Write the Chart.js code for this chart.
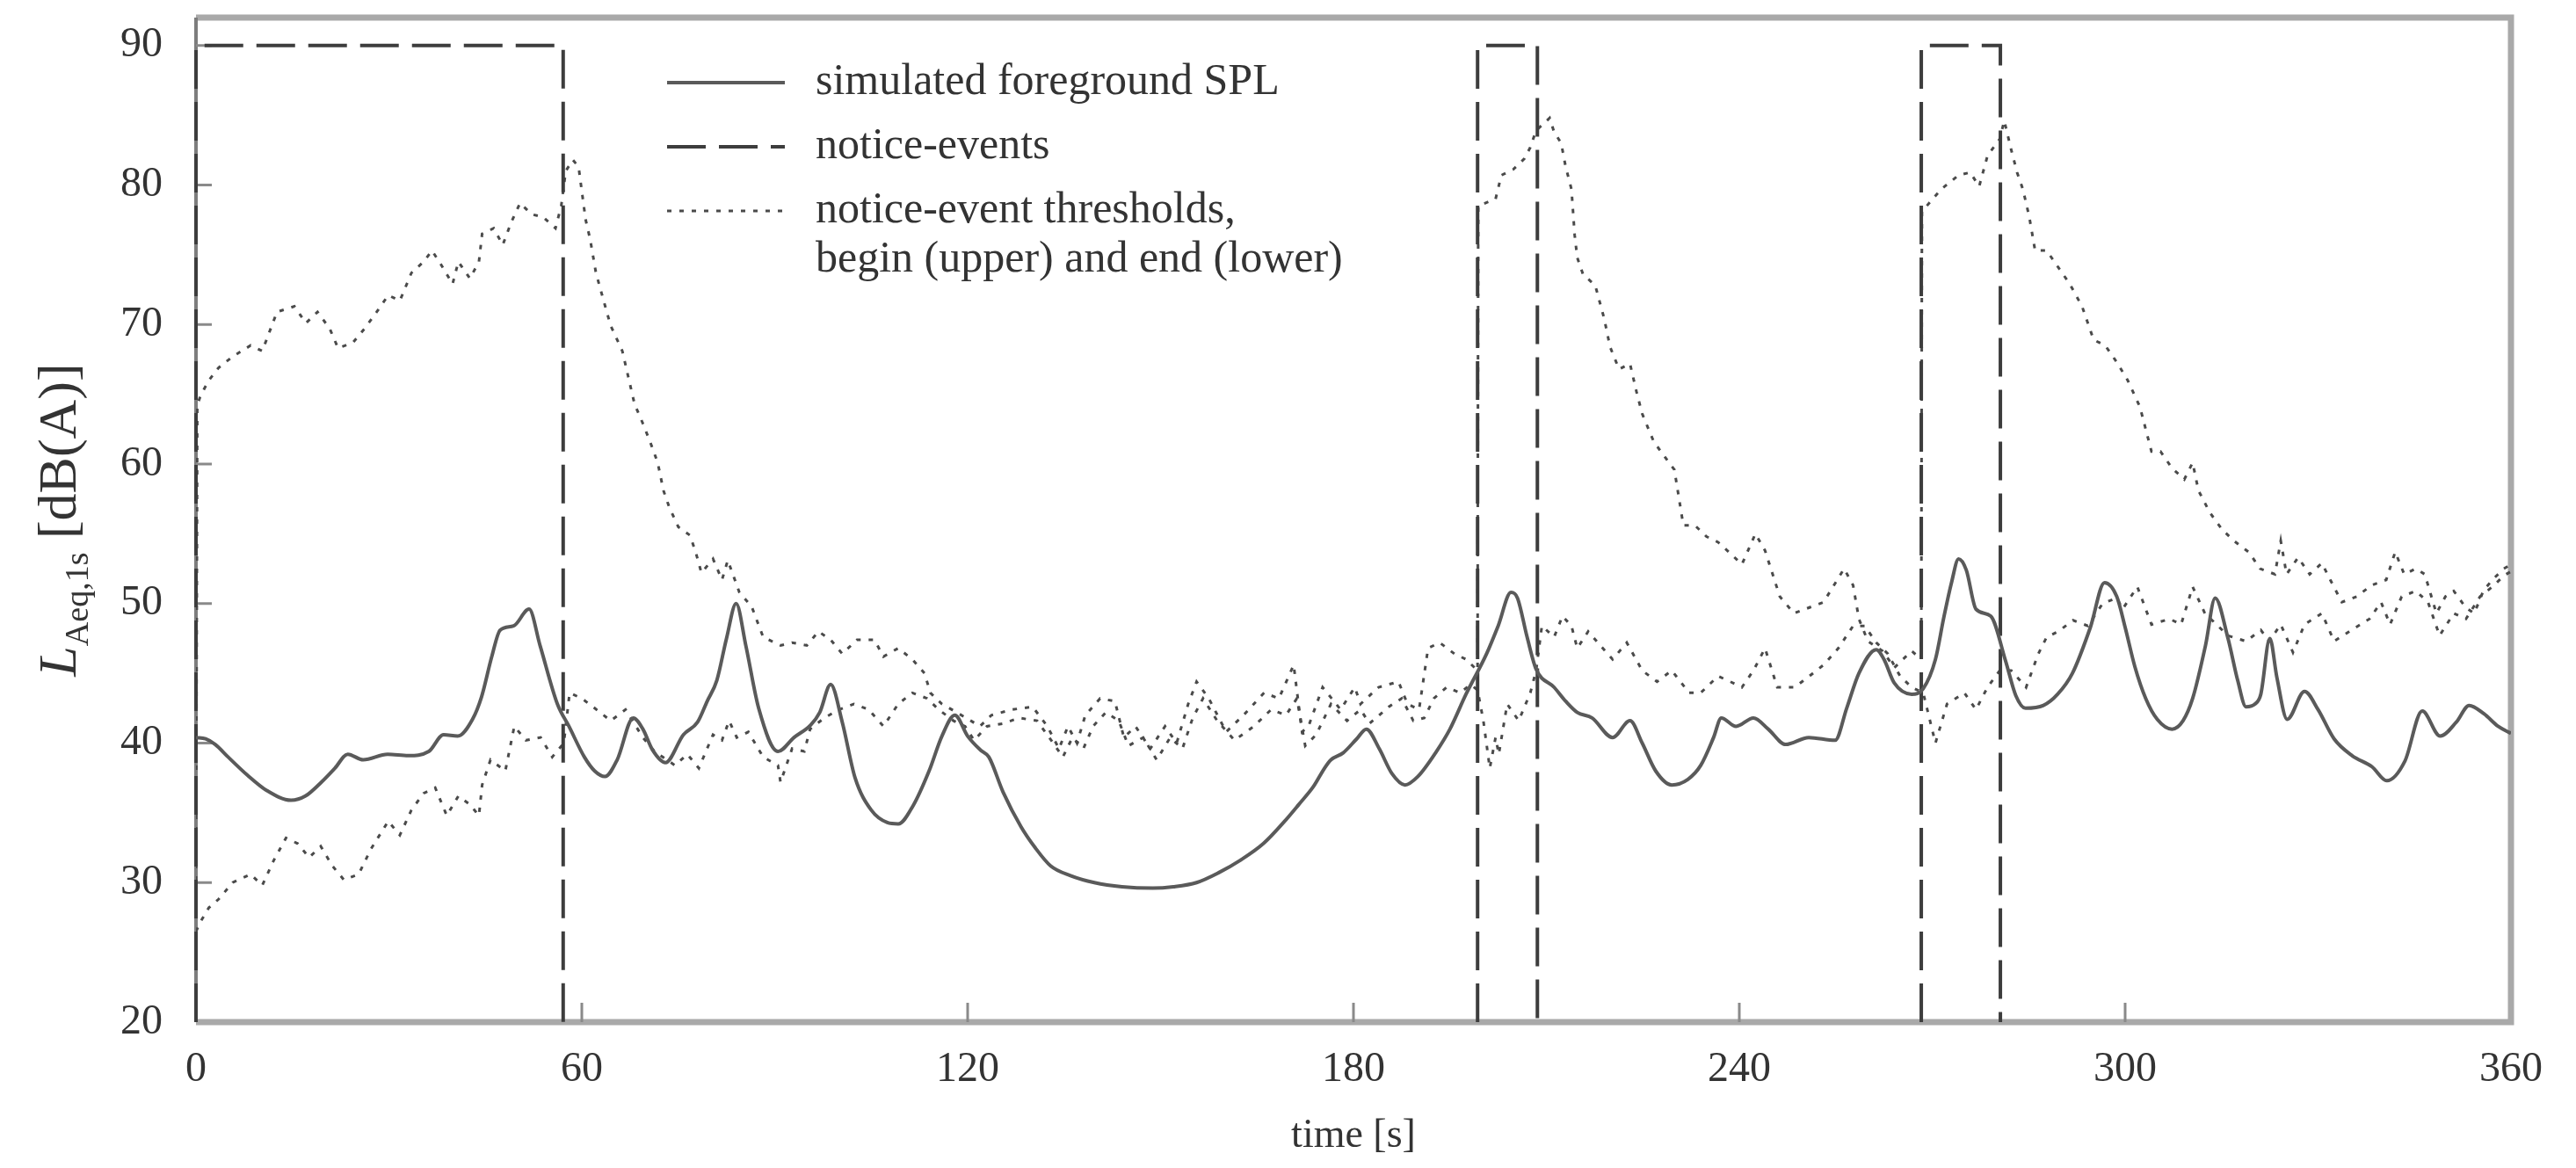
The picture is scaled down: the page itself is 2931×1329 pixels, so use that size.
<!DOCTYPE html>
<html>
<head>
<meta charset="utf-8">
<script src="https://cdn.jsdelivr.net/npm/chart.js@4.4.1/dist/chart.umd.min.js"></script>
<style>
  html, body { margin: 0; padding: 0; background: #fff; }
  canvas { display: block; }
</style>
</head>
<body>
<canvas id="chart" width="2931" height="1329"></canvas>
<script>
const xTicks = [0, 60, 120, 180, 240, 300, 360];
const yTicks = [20, 30, 40, 50, 60, 70, 80, 90];

// simulated foreground SPL (solid)
const splTime = [0, 1.5, 3, 5, 8, 11, 14.8, 17, 19.5, 21.6, 23.6, 26, 29.8, 33, 36.2, 38.5, 40.7, 43, 44.4, 46, 47.3, 49.4, 51.8, 53.5, 56.2, 58, 60.4, 62, 63.6, 65.5, 68, 69.5, 71, 73, 75.8, 78, 79.5, 81, 82.5, 84, 85.5, 87.5, 90.5, 93, 95.6, 97, 98.7, 100.5, 102.5, 105, 107.5, 109.2, 111.5, 114, 116, 118, 120, 122, 123.3, 125.5, 128.3, 130.5, 132.9, 136, 139.7, 144, 148.8, 152, 155.6, 159, 162.4, 166, 169.3, 171.5, 173.8, 175.5, 176.5, 178.4, 180.5, 182, 184, 186, 188, 190, 192.9, 195, 197.5, 200.7, 202.5, 204.5, 205.5, 207, 208.4, 211.2, 213, 214.8, 217.1, 220.3, 223, 224.9, 227, 229.5, 232, 234, 236, 237.2, 239.5, 242.2, 244.5, 247.2, 250.8, 254.9, 256.7, 258.6, 261.3, 262.5, 264.1, 266.8, 268.6, 270.5, 271.8, 273, 274.1, 275.3, 276.8, 279.1, 281.4, 283, 284.5, 287.3, 289.5, 291.8, 294.6, 296.8, 298.7, 300, 301.5, 303.2, 305, 307.3, 309, 310.5, 312.5, 314, 316, 317.5, 318.8, 320.2, 321.1, 322.5, 323.6, 325.2, 327.9, 330, 332.5, 335.3, 338.4, 340.7, 343.5, 346.2, 349, 351.5, 353.5, 355.8, 358, 360];
const splLevel = [40.4, 40.3, 39.9, 39, 37.7, 36.6, 35.9, 36.2, 37.2, 38.2, 39.2, 38.8, 39.2, 39.1, 39.4, 40.6, 40.5, 41.7, 43.3, 46.2, 48.1, 48.4, 49.6, 47, 42.8, 41.2, 39, 38, 37.6, 38.8, 41.8, 41, 39.5, 38.6, 40.6, 41.5, 43, 44.5, 47.5, 50, 47, 42.5, 39.4, 40.4, 41.3, 42.2, 44.2, 41.5, 37.5, 35.2, 34.3, 34.2, 35.5, 38, 40.5, 42, 40.5, 39.5, 39, 36.5, 34, 32.5, 31.2, 30.5, 30, 29.7, 29.6, 29.7, 30, 30.7, 31.6, 32.8, 34.4, 35.6, 36.9, 38.2, 38.8, 39.3, 40.3, 41, 39.6, 37.8, 37, 37.6, 39.4, 41, 43.5, 46.4, 48.4, 50.8, 50.4, 47.6, 45.3, 44, 43, 42.2, 41.8, 40.4, 41.6, 40, 38, 37, 37.4, 38.4, 40.4, 41.8, 41.2, 41.8, 41, 39.9, 40.4, 40.2, 42.5, 45, 46.7, 46, 44.3, 43.5, 43.9, 46, 49, 51.5, 53.2, 52.4, 49.6, 49.1, 45.9, 43.4, 42.5, 42.7, 43.5, 45, 48.3, 51.5, 50.5, 48.3, 45.5, 43.2, 41.7, 41, 41.6, 43.2, 47, 50.4, 47.5, 44.5, 42.6, 42.8, 43.5, 47.5, 44.7, 41.7, 43.7, 42.4, 40.3, 39.1, 38.3, 37.3, 38.7, 42.3, 40.5, 41.5, 42.7, 42.1, 41.2, 40.7];

// notice-event begin threshold (upper, dotted)
const beginTime = [0, 0.2, 0.7, 2, 3.5, 5.7, 8.5, 10.3, 12.6, 15.3, 17.1, 18.9, 20.8, 22.1, 24.4, 26.2, 28.1, 29.9, 31.7, 33.5, 35.4, 36.7, 38.1, 39.9, 40.8, 42.6, 44, 44.5, 46.3, 47.7, 49, 50.4, 52.2, 54, 55.9, 56.8, 57.5, 58.6, 59.5, 59.9, 60.6, 61.3, 62.2, 63.4, 64.5, 66.3, 67.5, 68.2, 69.5, 70.7, 71.8, 72.7, 73.6, 75, 76.8, 77.7, 78.6, 80.4, 81.8, 82.7, 84.5, 86.4, 88.2, 90.9, 92.7, 95, 96.8, 98.7, 100.5, 102.8, 105.5, 106.9, 109.2, 111.4, 113.3, 114.2, 116, 118.3, 120.5, 121.9, 123.7, 126.9, 130.1, 132.4, 134.2, 135.6, 137, 138.3, 140.6, 142.9, 144.3, 146.1, 148.4, 150.7, 152.5, 154.3, 155.6, 157.5, 160.2, 162.9, 166.1, 168.4, 170.7, 172, 173, 175.2, 178, 180.2, 181.1, 183.9, 187, 188.4, 190.2, 191.6, 193.4, 195.7, 197.5, 199.3, 199.4, 202.1, 203, 204.8, 206.6, 207.5, 208.4, 210.5, 211.2, 212.3, 213, 213.9, 214.4, 214.8, 215.7, 217.6, 219, 219.9, 221.3, 223, 224, 224.9, 226.7, 228.6, 229.9, 231.3, 233.1, 234.9, 236.7, 238.6, 240.4, 242.5, 244, 246.3, 248.5, 250.8, 253.1, 256.3, 257.7, 258.6, 260, 262.3, 264.1, 266.8, 268.3, 268.4, 271.4, 274.1, 275.9, 277.3, 278.6, 280.5, 281.2, 282.3, 283.2, 284.1, 285.1, 286, 287.8, 289.6, 291.4, 293.3, 295.1, 296.9, 298.7, 300.4, 302.3, 303.2, 304.1, 305.5, 307.3, 309.2, 310.5, 311.4, 313.2, 315.1, 316.9, 319.2, 321, 323.3, 324.2, 325.1, 326.9, 328.7, 330.6, 331.9, 333.7, 336, 338.3, 340.6, 342, 343.4, 345.2, 346.6, 348.4, 349.8, 351.1, 353, 354.3, 355.7, 357.1, 358.9, 360];
const beginLevel = [27.5, 64.2, 64.9, 66, 66.9, 67.7, 68.5, 68.1, 70.9, 71.3, 70.1, 70.9, 69.7, 68.3, 68.7, 69.7, 70.9, 72.1, 71.7, 73.7, 74.5, 75.3, 74.3, 72.9, 74.5, 73.3, 74.5, 76.5, 76.9, 75.7, 77.3, 78.7, 77.9, 77.7, 76.9, 78.5, 81, 81.8, 81.3, 79.9, 77.5, 76.1, 73.7, 71.7, 69.9, 68.1, 65.7, 64.3, 62.9, 61.5, 60.1, 58.1, 56.9, 55.5, 54.9, 53.7, 52.2, 53.2, 51.7, 53.1, 50.8, 49.8, 47.6, 47, 47.2, 47, 48, 47.4, 46.4, 47.4, 47.4, 46.2, 46.8, 46, 45, 43.6, 42.8, 42.2, 41.6, 41.2, 42, 42.4, 42.6, 41.2, 39.6, 41.2, 40, 42, 43.2, 43, 40.4, 41.2, 39.6, 41.2, 40, 42.8, 44.4, 43.2, 40.8, 42, 43.6, 43.2, 45.6, 40.8, 41.2, 44, 42.4, 44, 42.8, 44, 44.4, 42.8, 42.4, 46.8, 47.2, 46.4, 46, 45.2, 78.5, 79, 80.7, 81.1, 81.9, 82.7, 83.9, 84.8, 83.8, 83, 81.3, 79.7, 76.4, 74.8, 73.6, 72.8, 70.4, 68.4, 66.8, 67.2, 65.2, 63.6, 61.6, 60.4, 59.6, 55.6, 55.6, 54.8, 54.4, 53.6, 52.8, 55, 53.8, 50.5, 49.3, 49.7, 50.1, 52.5, 51.3, 48.9, 47.3, 46.6, 45.4, 46.6, 46, 78.1, 79.7, 80.7, 80.9, 79.9, 82.1, 83.3, 84.6, 82.5, 80.9, 79.7, 77.7, 75.3, 75.3, 74.1, 72.9, 71.3, 68.9, 68.5, 67.3, 66, 64.1, 62.5, 60.9, 60.9, 59.7, 58.9, 60.1, 58.1, 56.5, 55.3, 54.5, 53.7, 52.5, 52.1, 54.5, 52.1, 53.3, 52.1, 52.9, 51.7, 50.1, 50.5, 51.3, 51.7, 53.7, 52.1, 52.5, 52.1, 49.3, 50.5, 50.9, 49.7, 49.3, 50.9, 51.7, 52.5, 52.8];

// notice-event end threshold (lower, dotted)
const endTime = [0, 0.7, 2, 3.5, 5.7, 8.5, 10.3, 12.1, 14, 15.8, 17.6, 19.4, 21.2, 23, 25.3, 27.2, 29.9, 31.7, 33.5, 35.4, 37.2, 39, 40.8, 42.6, 44, 44.5, 45.8, 48.1, 49.5, 51.3, 53.6, 55.4, 57.2, 58.1, 60, 62, 64.5, 66.8, 69.5, 71.3, 74.5, 76.4, 78.2, 80.4, 81.8, 82.9, 84.1, 85.9, 88.2, 90.5, 90.9, 92.7, 94.6, 95.5, 97.7, 100, 102.3, 104.6, 106.9, 109.2, 111.4, 113.7, 115.5, 117.8, 119.6, 121, 123, 125.5, 128, 130.8, 133, 134.8, 136.3, 138, 139.5, 141.5, 143.5, 145, 147.3, 149.4, 151.5, 153.4, 155, 156.6, 158.8, 161.5, 164.5, 167.2, 169.5, 171.2, 172.5, 174.2, 176.5, 179, 181.1, 182.5, 185.5, 187.5, 189.3, 191, 192.5, 194.5, 196.6, 198.2, 199.3, 200.2, 201.2, 202.1, 202.6, 203.9, 205.7, 207.5, 208.4, 209.3, 211.2, 212.5, 213.9, 214.8, 216.5, 218, 220.3, 222.5, 224.9, 227.2, 229.5, 232.2, 234, 236.7, 238.6, 240.4, 242.2, 244, 245.9, 248.6, 250.9, 253.1, 255.4, 257.7, 259.5, 261.3, 263.1, 265, 266.8, 268.6, 270.5, 272.3, 275, 276.8, 278.6, 280.5, 282.3, 284.6, 286.5, 287.8, 289.6, 291.9, 294.2, 296.5, 298.7, 299.6, 301.9, 304.1, 306.9, 308.7, 310.5, 312.4, 314.2, 316, 318.8, 321.1, 322.4, 324.2, 326.1, 327.9, 330.6, 332.5, 335.2, 338, 339.8, 341.2, 343, 345.2, 347.1, 348.9, 351.1, 353, 355.2, 357.1, 358.9, 360];
const endLevel = [26.5, 27.2, 28.2, 28.8, 30, 30.6, 29.8, 31.6, 33.2, 32.8, 31.8, 32.6, 31.2, 30.2, 30.6, 32.4, 34.4, 33.4, 35.2, 36.4, 36.8, 34.8, 36.2, 35.6, 34.8, 37, 38.8, 38, 41.2, 40.2, 40.4, 39, 40, 43.6, 43.2, 42.5, 41.6, 42.4, 40.4, 39.4, 38.4, 39.2, 38.2, 40.6, 40.2, 41.6, 40.4, 40.8, 39, 38.4, 37.2, 39.6, 39.4, 41, 41.8, 42.4, 42.8, 42.4, 41.2, 42.8, 43.6, 43.2, 42.4, 41.6, 41.2, 40.2, 41.2, 41.4, 41.8, 41.6, 40.2, 39, 40.4, 39.6, 41.2, 42.2, 41.6, 39.8, 40.4, 38.8, 40.4, 39.6, 41.8, 43.2, 41.6, 40.2, 41.2, 42.4, 42, 43.2, 39.8, 40.6, 42.8, 41.6, 42.4, 41.4, 42.6, 43.2, 41.6, 41.8, 43.2, 44, 43.6, 44.2, 43.8, 41.6, 38.2, 40.4, 39.2, 42.8, 41.6, 43.6, 45.2, 48.4, 47.6, 49.1, 48.4, 46.8, 48, 47.2, 46, 47.2, 45.2, 44.4, 45.2, 43.6, 43.6, 44.8, 44.4, 44, 45.2, 46.8, 44, 44, 44.8, 45.6, 46.8, 48.4, 48.4, 47.2, 46.4, 44.8, 44, 43.6, 40, 42.8, 43.6, 42.4, 44, 45.2, 45.2, 44, 46.4, 47.6, 48, 48.8, 48.4, 50, 50.4, 49.6, 51.2, 48.5, 48.9, 48.5, 51.2, 49.3, 48.5, 47.7, 47.3, 48.1, 47.3, 48.5, 46.5, 48.5, 49.3, 47.3, 48.1, 48.9, 50.1, 48.5, 50.5, 50.9, 50.1, 47.7, 49.3, 48.9, 50.5, 51.2, 52, 52.3];

// notice-events (dashed boxes)
const eventStart = [0, 199.3, 268.3];
const eventEnd = [57.1, 208.6, 280.6];
const eventOn = 90;
const eventOff = 20;

const legendLines = [
  ['simulated foreground SPL'],
  ['notice-events'],
  ['notice-event thresholds,', 'begin (upper) and end (lower)']
];

const SERIF = '"Liberation Serif", "Times New Roman", serif';
const TEXT = '#333';

function pts(t, v) {
  return t.map((x, i) => ({ x, y: v[i] }));
}

const eventPts = [];
eventStart.forEach((s, i) => {
  const e = eventEnd[i];
  eventPts.push({ x: s, y: eventOff }, { x: s, y: eventOn }, { x: e, y: eventOn }, { x: e, y: eventOff }, { x: e, y: null });
});

const frame = {
  id: 'frame',
  beforeDatasetsDraw(chart) {
    const { ctx, chartArea: a, scales: { x, y } } = chart;
    ctx.save();
    ctx.strokeStyle = '#a9a9a9';
    ctx.lineWidth = 7;
    ctx.beginPath();
    ctx.moveTo(a.left, a.bottom);
    ctx.lineTo(a.right, a.bottom);
    ctx.lineTo(a.right, a.top);
    ctx.lineTo(a.left, a.top);
    ctx.stroke();
    ctx.strokeStyle = '#7d7d7d';
    ctx.lineWidth = 4;
    ctx.beginPath();
    ctx.moveTo(a.left, a.top);
    ctx.lineTo(a.left, a.bottom);
    ctx.stroke();

    // ticks point inwards
    ctx.strokeStyle = '#8a8a8a';
    ctx.lineWidth = 3;
    ctx.beginPath();
    xTicks.slice(1, -1).forEach(v => {
      const px = x.getPixelForValue(v);
      ctx.moveTo(px, a.bottom);
      ctx.lineTo(px, a.bottom - 22);
    });
    yTicks.slice(1).forEach(v => {
      const py = y.getPixelForValue(v);
      ctx.moveTo(a.left, py);
      ctx.lineTo(a.left + 18, py);
    });
    ctx.stroke();
    ctx.restore();
  },
  afterDraw(chart) {
    // y title with subscript: L_Aeq,1s [dB(A)]
    const { ctx, chartArea: a } = chart;
    const parts = [
      { t: 'L', font: 'italic 62px ' + SERIF, dy: 0 },
      { t: 'Aeq,1s', font: '38px ' + SERIF, dy: 14 },
      { t: ' [dB(A)]', font: '62px ' + SERIF, dy: 0 }
    ];
    ctx.save();
    ctx.fillStyle = TEXT;
    ctx.textBaseline = 'alphabetic';
    let total = 0;
    parts.forEach(p => { ctx.font = p.font; p.w = ctx.measureText(p.t).width; total += p.w; });
    ctx.translate(86, (a.top + a.bottom) / 2);
    ctx.rotate(-Math.PI / 2);
    let cx = -total / 2;
    parts.forEach(p => {
      ctx.font = p.font;
      ctx.fillText(p.t, cx, p.dy);
      cx += p.w;
    });
    ctx.restore();
  }
};

const insideLegend = {
  id: 'insideLegend',
  afterDatasetsDraw(chart) {
    const { ctx, chartArea: a } = chart;
    const x0 = a.left + 536;
    let y = a.top + 74;
    ctx.save();
    legendLines.forEach((lines, i) => {
      const ds = chart.data.datasets[i];
      ctx.beginPath();
      ctx.setLineDash(ds.borderDash || []);
      ctx.lineWidth = ds.borderWidth;
      ctx.strokeStyle = ds.borderColor;
      ctx.moveTo(x0, y);
      ctx.lineTo(x0 + 134, y);
      ctx.stroke();
      ctx.setLineDash([]);
      ctx.fillStyle = TEXT;
      ctx.font = '50px ' + SERIF;
      ctx.textBaseline = 'middle';
      lines.forEach((t, k) => ctx.fillText(t, x0 + 169, y + k * 56));
      y += lines.length * 56 + 17;
    });
    ctx.restore();
  }
};

new Chart(document.getElementById('chart'), {
  type: 'line',
  data: {
    datasets: [
      {
        label: 'simulated foreground SPL',
        data: pts(splTime, splLevel),
        borderColor: '#5a5a5a',
        borderWidth: 4,
        pointRadius: 0,
        cubicInterpolationMode: 'monotone'
      },
      {
        label: 'notice-events',
        data: eventPts,
        borderColor: '#3d3d3d',
        borderWidth: 4,
        borderDash: [44, 15],
        pointRadius: 0,
        spanGaps: false,
        clip: 8
      },
      {
        label: 'notice-event thresholds, begin (upper)',
        data: pts(beginTime, beginLevel),
        borderColor: '#4a4a4a',
        borderWidth: 3,
        borderDash: [5, 9],
        pointRadius: 0
      },
      {
        label: 'notice-event thresholds, end (lower)',
        data: pts(endTime, endLevel),
        borderColor: '#4a4a4a',
        borderWidth: 3,
        borderDash: [5, 9],
        pointRadius: 0
      }
    ]
  },
  options: {
    responsive: false,
    animation: false,
    devicePixelRatio: 1,
    layout: { padding: { left: 0, top: 20, right: 74, bottom: 0 } },
    plugins: {
      legend: { display: false },
      tooltip: { enabled: false }
    },
    scales: {
      x: {
        type: 'linear',
        min: 0,
        max: 360,
        afterBuildTicks: s => { s.ticks = xTicks.map(v => ({ value: v })); },
        afterFit: s => { s.height = 166; s.paddingLeft = 0; s.paddingRight = 0; },
        grid: { display: false, drawTicks: false },
        border: { display: false },
        ticks: { font: { family: SERIF, size: 48 }, color: TEXT, padding: 26, maxRotation: 0 },
        title: { display: true, text: 'time [s]', font: { family: SERIF, size: 46 }, color: TEXT, padding: { top: 0, bottom: 8 } }
      },
      y: {
        min: 20,
        max: 92,
        afterBuildTicks: s => { s.ticks = yTicks.map(v => ({ value: v })); },
        afterFit: s => { s.width = 223; s.paddingTop = 0; s.paddingBottom = 0; },
        grid: { display: false, drawTicks: false },
        border: { display: false },
        ticks: { font: { family: SERIF, size: 48 }, color: TEXT, padding: 38 }
      }
    }
  },
  plugins: [frame, insideLegend]
});
</script>
</body>
</html>
